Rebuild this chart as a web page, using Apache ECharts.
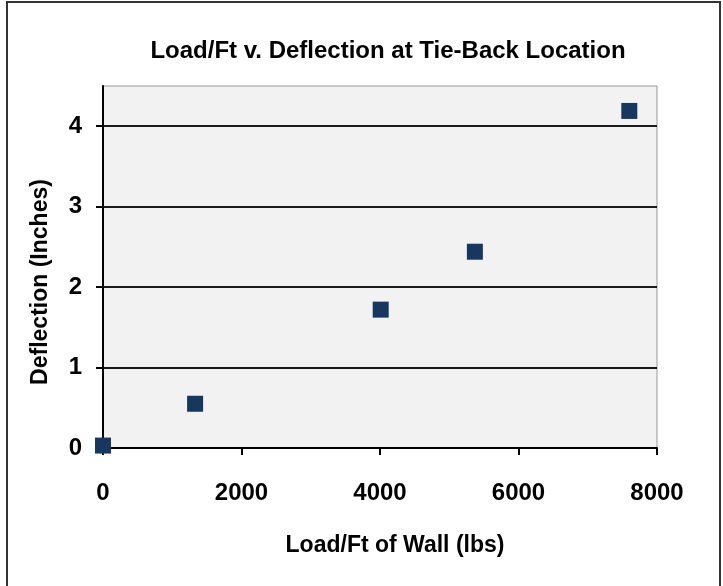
<!DOCTYPE html>
<html>
<head>
<meta charset="utf-8">
<script src="https://cdn.jsdelivr.net/npm/echarts@6/dist/echarts.min.js"></script>
<style>html,body{margin:0;padding:0;background:#fff}#c{width:723px;height:586px}</style>
</head>
<body>
<div id="c"></div>
<script>
const loadPerFt = [0, 1330, 4010, 5370, 7600];
const deflection = [0.03, 0.55, 1.72, 2.44, 4.19];
const xTicks = [0, 2000, 4000, 6000, 8000];
const yTicks = [0, 1, 2, 3, 4];
const titleText = 'Load/Ft v. Deflection at Tie-Back Location';
const xTitle = 'Load/Ft of Wall (lbs)';
const yTitle = 'Deflection (Inches)';

const font = 'Liberation Sans, Arial, sans-serif';
const chart = echarts.init(document.getElementById('c'), null, {renderer: 'canvas'});
chart.setOption({
  animation: false,
  backgroundColor: '#fff',
  graphic: [{
    type: 'rect', shape: {x: 7, y: 2, width: 713, height: 620},
    style: {fill: 'none', stroke: '#333', lineWidth: 2}, z: -1
  }],
  title: {
    text: titleText, left: 383, top: 34, textAlign: 'center',
    textStyle: {fontFamily: font, fontWeight: 'bold', fontSize: 24, color: '#000'}
  },
  grid: {
    left: 103, right: 66, top: 86, bottom: 138,
    show: true, backgroundColor: '#f2f2f2', borderColor: '#999', borderWidth: 1
  },
  xAxis: {
    type: 'value', min: 0, max: 8000, interval: 2000,
    name: xTitle, nameLocation: 'middle', nameGap: 86,
    nameTextStyle: {fontFamily: font, fontWeight: 'bold', fontSize: 23, color: '#000', padding: [0, 0, 0, 30]},
    axisLine: {show: true, onZero: false, lineStyle: {color: '#000', width: 2}},
    axisTick: {show: true, inside: false, length: 7, lineStyle: {color: '#000', width: 2}, customValues: xTicks},
    axisLabel: {margin: 33, fontFamily: font, fontWeight: 'bold', fontSize: 24, color: '#000',
      customValues: xTicks, formatter: v => String(v)},
    splitLine: {show: false}
  },
  yAxis: {
    type: 'value', min: 0, max: 4.5, interval: 1,
    name: yTitle, nameLocation: 'middle', nameGap: 51, nameRotate: 90,
    nameTextStyle: {fontFamily: font, fontWeight: 'bold', fontSize: 23, color: '#000', padding: [0, 0, 0, -30]},
    axisLine: {show: true, onZero: false, lineStyle: {color: '#000', width: 2}},
    axisTick: {show: true, inside: false, length: 7, lineStyle: {color: '#000', width: 2}, customValues: yTicks},
    axisLabel: {margin: 21, fontFamily: font, fontWeight: 'bold', fontSize: 24, color: '#000',
      padding: [8, 0, 0, 0], customValues: yTicks, formatter: v => String(v)},
    splitLine: {show: true, showMinLine: false, showMaxLine: true, lineStyle: {color: '#1a1a1a', width: 2}}
  },
  series: [{
    type: 'scatter', clip: false,
    symbol: 'rect', symbolSize: 16,
    itemStyle: {color: '#17375e', opacity: 1},
    data: loadPerFt.map((x, i) => [x, deflection[i]])
  }]
});
</script>
</body>
</html>
